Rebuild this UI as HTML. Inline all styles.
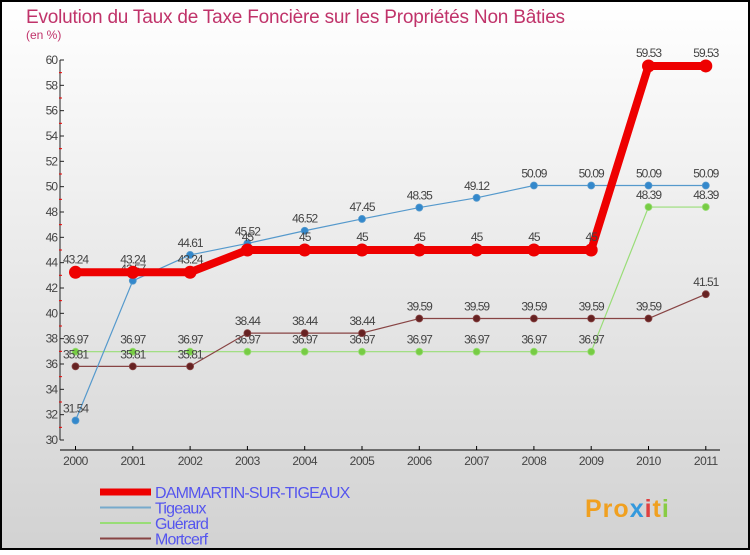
<!DOCTYPE html>
<html><head><meta charset="utf-8"><style>
html,body{margin:0;padding:0}
body{width:750px;height:550px;overflow:hidden;font-family:"Liberation Sans","DejaVu Sans",sans-serif}
</style></head><body>
<svg width="750" height="550" xmlns="http://www.w3.org/2000/svg">
<defs><linearGradient id="bg" x1="0" y1="0" x2="0" y2="1"><stop offset="0" stop-color="#ffffff"/><stop offset="1" stop-color="#d2d2d2"/></linearGradient></defs>
<rect x="1" y="1" width="748" height="548" fill="url(#bg)" stroke="#000" stroke-width="2"/>
<text x="26" y="23" font-size="19" fill="#c0336a" letter-spacing="-0.2">Evolution du Taux de Taxe Foncière sur les Propriétés Non Bâties</text>
<text x="26" y="39" font-size="12" fill="#c0336a">(en %)</text>
<g id="axes"></g>
<g id="series"></g>
<g id="legend"></g>
<text x="585" y="517" font-size="25" font-weight="bold" fill="#f0a020" letter-spacing="1">Pro<tspan fill="#3399dd">x</tspan><tspan fill="#e04040">i</tspan>t<tspan fill="#88cc44">i</tspan></text>
<g id="dummy"></g>
</svg>
<script>
const years=["2000","2001","2002","2003","2004","2005","2006","2007","2008","2009","2010","2011"];
const dammartin=[43.24,43.24,43.24,45,45,45,45,45,45,45,59.53,59.53];
const tigeaux=[31.54,42.57,44.61,45.52,46.52,47.45,48.35,49.12,50.09,50.09,50.09,50.09];
const guerard=[36.97,36.97,36.97,36.97,36.97,36.97,36.97,36.97,36.97,36.97,48.39,48.39];
const mortcerf=[35.81,35.81,35.81,38.44,38.44,38.44,39.59,39.59,39.59,39.59,39.59,41.51];
const yTicks=[30,32,34,36,38,40,42,44,46,48,50,52,54,56,58,60];
const NS="http://www.w3.org/2000/svg";
function X(i){return 75.5+i*57.3;}
function Y(v){return 440-(v-30)*12.667;}
function mk(t,a,p){const e=document.createElementNS(NS,t);for(const k in a)e.setAttribute(k,a[k]);(p||document.getElementById('series')).appendChild(e);return e;}
const ax=document.getElementById('axes');
let e=mk('line',{x1:60,y1:Y(60),x2:60,y2:Y(30),stroke:'#222','stroke-width':1},ax);

e=mk('line',{x1:60,y1:450,x2:720,y2:450,stroke:'#000','stroke-width':1},ax);

yTicks.forEach(v=>{
 const t=mk('line',{x1:60,y1:Y(v),x2:64,y2:Y(v),stroke:'#222'},ax);
 
 if(v<60){const m=mk('line',{x1:59,y1:Y(v+1),x2:62,y2:Y(v+1),stroke:'#e00'},ax);
 }
 const l=mk('text',{x:57,y:Y(v)+4,'font-size':12,fill:'#444','text-anchor':'end','letter-spacing':'-1'},ax);l.textContent=v;
 
});
years.forEach((y,i)=>{
 const t=mk('line',{x1:X(i),y1:446,x2:X(i),y2:450,stroke:'#000'},ax);
 
 const l=mk('text',{x:X(i),y:465,'font-size':12,fill:'#444','text-anchor':'middle','letter-spacing':'-0.5'},ax);l.textContent=y;
 
});
function series(vals,color,dot,w,r,name,lblDy){
 const pts=vals.map((v,i)=>X(i)+','+Y(v)).join(' ');
 const pl=mk('polyline',{points:pts,fill:'none',stroke:color,'stroke-width':w,'stroke-linejoin':'round'});
 
 vals.forEach((v,i)=>{
  const c=mk('circle',{cx:X(i),cy:Y(v),r:r,fill:dot,stroke:color,'stroke-width':w>3?0:0.8});
  
  const t=mk('text',{x:X(i),y:Y(v)+lblDy,'font-size':12,fill:'#444','text-anchor':'middle','letter-spacing':'-1'});t.textContent=v;
  
 });
}
series(guerard,'#99dd77','#77cc44',1.2,3.5,'guerard',-8);
series(mortcerf,'#884444','#662222',1.2,3.5,'mortcerf',-8);
series(tigeaux,'#5599cc','#3388cc',1.2,3.5,'tigeaux',-8);
series(dammartin,'#ee0000','#ee0000',8,6.5,'dammartin',-9);
const lg=document.getElementById('legend');
const leg=[["DAMMARTIN-SUR-TIGEAUX","#ee0000",7],["Tigeaux","#77aacc",2],["Guérard","#99dd77",2],["Mortcerf","#884444",2]];
leg.forEach((d,i)=>{
 const y=492+i*15.5;
 const l=mk('line',{x1:100,y1:y,x2:151,y2:y,stroke:d[1],'stroke-width':d[2]},lg);
 
 const t=mk('text',{x:155,y:y+6,'font-size':16,fill:'#5555ee','letter-spacing':'-0.8'},lg);t.textContent=d[0];
 
});
</script>
</body></html>
